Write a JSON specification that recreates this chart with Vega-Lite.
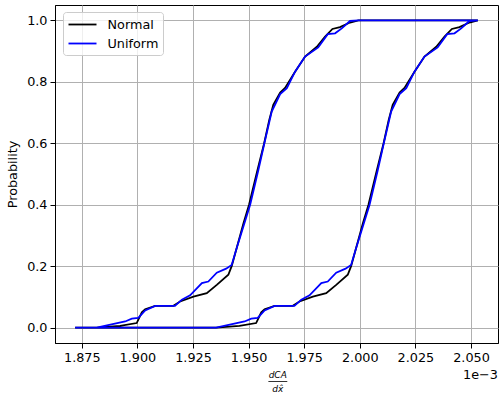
{
  "$schema": "https://vega.github.io/schema/vega-lite/v6.json",
  "width": 443,
  "height": 338,
  "autosize": {"type": "none"},
  "padding": {"left": 55, "top": 5, "right": 1, "bottom": 53},
  "background": "white",
  "config": {
    "font": "DejaVu Sans",
    "view": {"stroke": "black", "strokeWidth": 1}
  },
  "datasets": {
    "pbox": [
      {"s":"Normal","i":0,"x":1.8720,"p":0},
      {"s":"Normal","i":1,"x":1.8817,"p":0},
      {"s":"Normal","i":2,"x":1.8922,"p":0.006},
      {"s":"Normal","i":3,"x":1.8997,"p":0.015},
      {"s":"Normal","i":4,"x":1.9020,"p":0.05},
      {"s":"Normal","i":5,"x":1.9035,"p":0.06},
      {"s":"Normal","i":6,"x":1.9080,"p":0.071},
      {"s":"Normal","i":7,"x":1.9162,"p":0.071},
      {"s":"Normal","i":8,"x":1.9192,"p":0.085},
      {"s":"Normal","i":9,"x":1.9252,"p":0.101},
      {"s":"Normal","i":10,"x":1.9312,"p":0.112},
      {"s":"Normal","i":11,"x":1.9357,"p":0.139},
      {"s":"Normal","i":12,"x":1.9409,"p":0.172},
      {"s":"Normal","i":13,"x":1.9424,"p":0.2},
      {"s":"Normal","i":14,"x":1.9477,"p":0.34},
      {"s":"Normal","i":15,"x":1.9502,"p":0.40},
      {"s":"Normal","i":16,"x":1.9540,"p":0.513},
      {"s":"Normal","i":17,"x":1.9570,"p":0.6},
      {"s":"Normal","i":18,"x":1.9593,"p":0.676},
      {"s":"Normal","i":19,"x":1.9611,"p":0.725},
      {"s":"Normal","i":20,"x":1.9642,"p":0.765},
      {"s":"Normal","i":21,"x":1.9664,"p":0.78},
      {"s":"Normal","i":22,"x":1.9709,"p":0.833},
      {"s":"Normal","i":23,"x":1.9754,"p":0.882},
      {"s":"Normal","i":24,"x":1.9807,"p":0.914},
      {"s":"Normal","i":25,"x":1.9844,"p":0.947},
      {"s":"Normal","i":26,"x":1.9877,"p":0.972},
      {"s":"Normal","i":27,"x":1.9911,"p":0.978},
      {"s":"Normal","i":28,"x":1.9956,"p":0.993},
      {"s":"Normal","i":29,"x":1.9994,"p":1.0},
      {"s":"Normal","i":30,"x":2.0531,"p":1.0},
      {"s":"Normal","i":31,"x":2.0493,"p":0.993},
      {"s":"Normal","i":32,"x":2.0448,"p":0.978},
      {"s":"Normal","i":33,"x":2.0414,"p":0.972},
      {"s":"Normal","i":34,"x":2.0381,"p":0.947},
      {"s":"Normal","i":35,"x":2.0344,"p":0.914},
      {"s":"Normal","i":36,"x":2.0291,"p":0.882},
      {"s":"Normal","i":37,"x":2.0246,"p":0.833},
      {"s":"Normal","i":38,"x":2.0201,"p":0.78},
      {"s":"Normal","i":39,"x":2.0179,"p":0.765},
      {"s":"Normal","i":40,"x":2.0148,"p":0.725},
      {"s":"Normal","i":41,"x":2.0130,"p":0.676},
      {"s":"Normal","i":42,"x":2.0107,"p":0.6},
      {"s":"Normal","i":43,"x":2.0077,"p":0.513},
      {"s":"Normal","i":44,"x":2.0039,"p":0.40},
      {"s":"Normal","i":45,"x":2.0014,"p":0.34},
      {"s":"Normal","i":46,"x":1.9961,"p":0.2},
      {"s":"Normal","i":47,"x":1.9946,"p":0.172},
      {"s":"Normal","i":48,"x":1.9894,"p":0.139},
      {"s":"Normal","i":49,"x":1.9849,"p":0.112},
      {"s":"Normal","i":50,"x":1.9789,"p":0.101},
      {"s":"Normal","i":51,"x":1.9729,"p":0.085},
      {"s":"Normal","i":52,"x":1.9699,"p":0.071},
      {"s":"Normal","i":53,"x":1.9617,"p":0.071},
      {"s":"Normal","i":54,"x":1.9572,"p":0.06},
      {"s":"Normal","i":55,"x":1.9557,"p":0.05},
      {"s":"Normal","i":56,"x":1.9534,"p":0.015},
      {"s":"Normal","i":57,"x":1.9459,"p":0.006},
      {"s":"Normal","i":58,"x":1.9354,"p":0},
      {"s":"Normal","i":59,"x":1.9257,"p":0},
      {"s":"Normal","i":60,"x":1.8720,"p":0},
      {"s":"Uniform","i":0,"x":1.8720,"p":0},
      {"s":"Uniform","i":1,"x":1.8817,"p":0},
      {"s":"Uniform","i":2,"x":1.8945,"p":0.02},
      {"s":"Uniform","i":3,"x":1.8975,"p":0.029},
      {"s":"Uniform","i":4,"x":1.9004,"p":0.032},
      {"s":"Uniform","i":5,"x":1.9035,"p":0.056},
      {"s":"Uniform","i":6,"x":1.9080,"p":0.071},
      {"s":"Uniform","i":7,"x":1.9169,"p":0.071},
      {"s":"Uniform","i":8,"x":1.9200,"p":0.091},
      {"s":"Uniform","i":9,"x":1.9237,"p":0.105},
      {"s":"Uniform","i":10,"x":1.9290,"p":0.145},
      {"s":"Uniform","i":11,"x":1.9319,"p":0.15},
      {"s":"Uniform","i":12,"x":1.9357,"p":0.179},
      {"s":"Uniform","i":13,"x":1.9399,"p":0.192},
      {"s":"Uniform","i":14,"x":1.9424,"p":0.204},
      {"s":"Uniform","i":15,"x":1.9447,"p":0.26},
      {"s":"Uniform","i":16,"x":1.9507,"p":0.40},
      {"s":"Uniform","i":17,"x":1.9544,"p":0.513},
      {"s":"Uniform","i":18,"x":1.9571,"p":0.6},
      {"s":"Uniform","i":19,"x":1.9604,"p":0.703},
      {"s":"Uniform","i":20,"x":1.9642,"p":0.76},
      {"s":"Uniform","i":21,"x":1.9672,"p":0.779},
      {"s":"Uniform","i":22,"x":1.9709,"p":0.833},
      {"s":"Uniform","i":23,"x":1.9754,"p":0.882},
      {"s":"Uniform","i":24,"x":1.9813,"p":0.912},
      {"s":"Uniform","i":25,"x":1.9856,"p":0.955},
      {"s":"Uniform","i":26,"x":1.9889,"p":0.958},
      {"s":"Uniform","i":27,"x":1.9919,"p":0.974},
      {"s":"Uniform","i":28,"x":1.9956,"p":0.998},
      {"s":"Uniform","i":29,"x":1.9994,"p":1.0},
      {"s":"Uniform","i":30,"x":2.0531,"p":1.0},
      {"s":"Uniform","i":31,"x":2.0493,"p":0.998},
      {"s":"Uniform","i":32,"x":2.0456,"p":0.974},
      {"s":"Uniform","i":33,"x":2.0426,"p":0.958},
      {"s":"Uniform","i":34,"x":2.0393,"p":0.955},
      {"s":"Uniform","i":35,"x":2.0350,"p":0.912},
      {"s":"Uniform","i":36,"x":2.0291,"p":0.882},
      {"s":"Uniform","i":37,"x":2.0246,"p":0.833},
      {"s":"Uniform","i":38,"x":2.0209,"p":0.779},
      {"s":"Uniform","i":39,"x":2.0179,"p":0.76},
      {"s":"Uniform","i":40,"x":2.0141,"p":0.703},
      {"s":"Uniform","i":41,"x":2.0108,"p":0.6},
      {"s":"Uniform","i":42,"x":2.0081,"p":0.513},
      {"s":"Uniform","i":43,"x":2.0044,"p":0.40},
      {"s":"Uniform","i":44,"x":1.9984,"p":0.26},
      {"s":"Uniform","i":45,"x":1.9961,"p":0.204},
      {"s":"Uniform","i":46,"x":1.9936,"p":0.192},
      {"s":"Uniform","i":47,"x":1.9894,"p":0.179},
      {"s":"Uniform","i":48,"x":1.9856,"p":0.15},
      {"s":"Uniform","i":49,"x":1.9827,"p":0.145},
      {"s":"Uniform","i":50,"x":1.9774,"p":0.105},
      {"s":"Uniform","i":51,"x":1.9737,"p":0.091},
      {"s":"Uniform","i":52,"x":1.9706,"p":0.071},
      {"s":"Uniform","i":53,"x":1.9617,"p":0.071},
      {"s":"Uniform","i":54,"x":1.9572,"p":0.056},
      {"s":"Uniform","i":55,"x":1.9541,"p":0.032},
      {"s":"Uniform","i":56,"x":1.9512,"p":0.029},
      {"s":"Uniform","i":57,"x":1.9482,"p":0.02},
      {"s":"Uniform","i":58,"x":1.9354,"p":0},
      {"s":"Uniform","i":59,"x":1.9257,"p":0},
      {"s":"Uniform","i":60,"x":1.8720,"p":0}
    ]
  },
  "layer": [
    {
      "data": {"name": "pbox"},
      "mark": {"type": "line", "strokeWidth": 1.8, "clip": false},
      "encoding": {
        "x": {
          "field": "x", "type": "quantitative",
          "scale": {"domain": [1.86295, 2.06215], "nice": false, "zero": false},
          "axis": {
            "values": [1.875, 1.9, 1.925, 1.95, 1.975, 2.0, 2.025, 2.05],
            "format": ".3f",
            "title": null,
            "labelFontSize": 12.8, "labelColor": "black",
            "labelPadding": 3,
            "tickColor": "black", "tickSize": 5, "tickWidth": 1,
            "domainColor": "black", "domainWidth": 1,
            "grid": true, "gridColor": "#b0b0b0", "gridWidth": 1, "gridOpacity": 1
          }
        },
        "y": {
          "field": "p", "type": "quantitative",
          "scale": {"domain": [-0.05, 1.05], "nice": false, "zero": false},
          "axis": {
            "values": [0, 0.2, 0.4, 0.6, 0.8, 1.0],
            "format": ".1f",
            "title": "Probability",
            "titleFontSize": 12.8, "titleFontWeight": "normal", "titleColor": "black",
            "titlePadding": 7,
            "labelFontSize": 12.8, "labelColor": "black",
            "labelPadding": 3,
            "tickColor": "black", "tickSize": 5, "tickWidth": 1,
            "domainColor": "black", "domainWidth": 1,
            "grid": true, "gridColor": "#b0b0b0", "gridWidth": 1, "gridOpacity": 1
          }
        },
        "order": {"field": "i", "type": "quantitative"},
        "color": {
          "field": "s", "type": "nominal",
          "scale": {"domain": ["Normal", "Uniform"], "range": ["black", "blue"]},
          "legend": {
            "title": null,
            "orient": "none",
            "legendX": 8,
            "legendY": 7,
            "symbolType": "M-1,0H3",
            "symbolSize": 196,
            "symbolStrokeWidth": 1.8,
            "labelFontSize": 12.8,
            "labelColor": "black",
            "labelOffset": 24,
            "rowPadding": 4,
            "padding": 4.5,
            "fillColor": "rgba(255,255,255,0.8)",
            "strokeColor": "#cccccc",
            "cornerRadius": 3
          }
        }
      }
    },
    {
      "data": {"values": [{"label": "dCA"}]},
      "mark": {"type": "text", "fontSize": 9, "fontStyle": "italic", "align": "center", "baseline": "middle"},
      "encoding": {
        "x": {"datum": 1.9631, "type": "quantitative"},
        "y": {"datum": -0.1535, "type": "quantitative"},
        "text": {"field": "label"}
      }
    },
    {
      "data": {"values": [{"label": "dx̂"}]},
      "mark": {"type": "text", "fontSize": 9, "fontStyle": "italic", "align": "center", "baseline": "middle"},
      "encoding": {
        "x": {"datum": 1.9631, "type": "quantitative"},
        "y": {"datum": -0.2, "type": "quantitative"},
        "text": {"field": "label"}
      }
    },
    {
      "data": {"values": [{"a": 1.9589, "b": 1.9674, "y": -0.1753}]},
      "mark": {"type": "rule", "color": "black", "strokeWidth": 0.8},
      "encoding": {
        "x": {"field": "a", "type": "quantitative"},
        "x2": {"field": "b"},
        "y": {"field": "y", "type": "quantitative"}
      }
    },
    {
      "data": {"values": [{"label": "1e−3"}]},
      "mark": {"type": "text", "fontSize": 12.8, "align": "right", "baseline": "middle"},
      "encoding": {
        "x": {"datum": 2.06215, "type": "quantitative"},
        "y": {"datum": -0.1535, "type": "quantitative"},
        "text": {"field": "label"}
      }
    }
  ]
}
